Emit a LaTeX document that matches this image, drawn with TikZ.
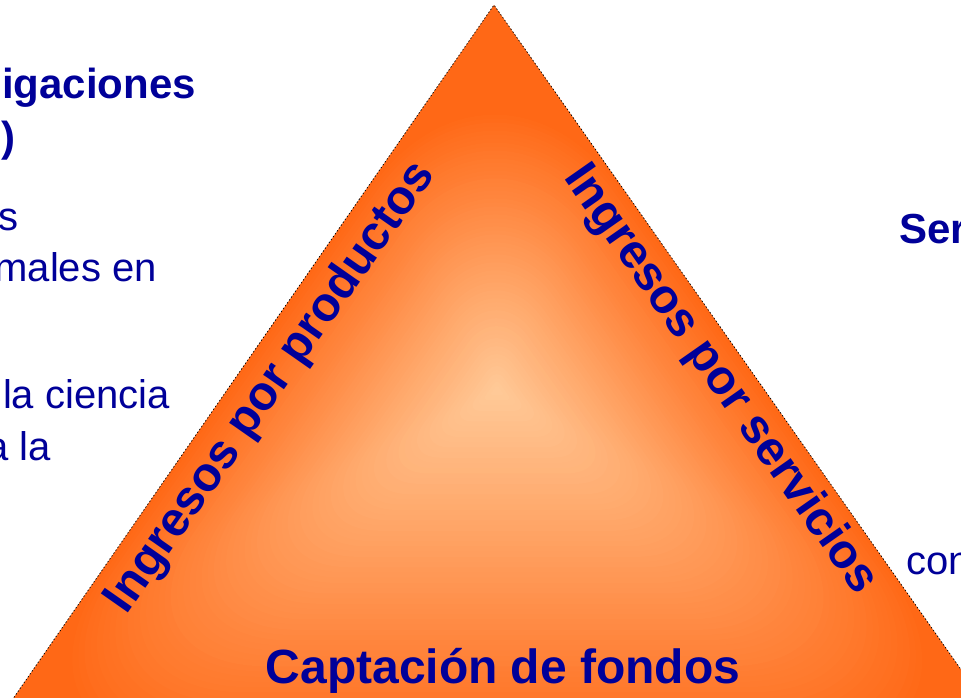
\documentclass[tikz,border=0pt]{standalone}
\usepackage{fontspec}
\setmainfont{Liberation Sans}
\usetikzlibrary{calc}
\definecolor{txtblue}{RGB}{0,0,153}
\definecolor{orng}{RGB}{255,104,22}
\definecolor{peach}{RGB}{255,202,152}
\newcommand\myfs[1]{\fontsize{#1}{#1}\selectfont}
\tikzset{
  boldtxt/.style={text=txtblue,font=\myfs{42}\bfseries,inner sep=0pt},
  regtxt/.style={text=txtblue,font=\myfs{40},inner sep=0pt},
  sidetxt/.style={text=txtblue,font=\myfs{48}\bfseries,inner sep=0pt},
  edgeline/.style={draw=black,line width=0.7pt,dash pattern=on 1.5pt off 2pt}
}
\begin{document}
\begin{tikzpicture}[x=1pt,y=-1pt]
\useasboundingbox (0,0) rectangle (961,698);
\clip (0,0) rectangle (961,698);
\coordinate (A) at (494,5);
\coordinate (B) at (-26,755);
\coordinate (C) at (1021,755);
\coordinate (G) at (497,390);
% gradient by nested (softened) triangles
\fill[orng] (A) -- (B) -- (C) -- cycle;
\foreach \i in {1,...,70}{
  \pgfmathsetmacro\s{1-\i/70}
  \pgfmathtruncatemacro\p{100*\s}
  \pgfmathsetmacro\rc{220*\s}
  \colorlet{cur}{orng!\p!peach}
  \fill[cur,rounded corners=\rc pt] ($(G)!\s!(A)$) -- ($(G)!\s!(B)$) -- ($(G)!\s!(C)$) -- cycle;
}
\draw[edgeline] (B) -- (A) -- (C);
% triangle labels
\node[sidetxt,rotate=55] (prod) at (271,388) {Ingresos por productos};
\node[sidetxt,rotate=-55] (serv) at (720,380) {Ingresos por servicios};
\node[sidetxt,anchor=base] (capt) at (503,683) {Captación de fondos};
% left fragments
\node[boldtxt,anchor=base east] (l1) at (196,99) {igaciones};
\node[boldtxt,anchor=base east] (l2) at (16,152) {)};
\node[regtxt,anchor=base east] (l3) at (19,230) {s};
\node[regtxt,anchor=base east] (l4) at (157,281) {males en};
\node[regtxt,anchor=base east] (l5) at (170,408) {la ciencia};
\node[regtxt,anchor=base east] (l6) at (51,460) {a la};
% right fragments
\node[boldtxt,anchor=base west] (r1) at (899,243) {Ser};
\node[regtxt,anchor=base west] (r2) at (906,574) {con};
\end{tikzpicture}
\end{document}
